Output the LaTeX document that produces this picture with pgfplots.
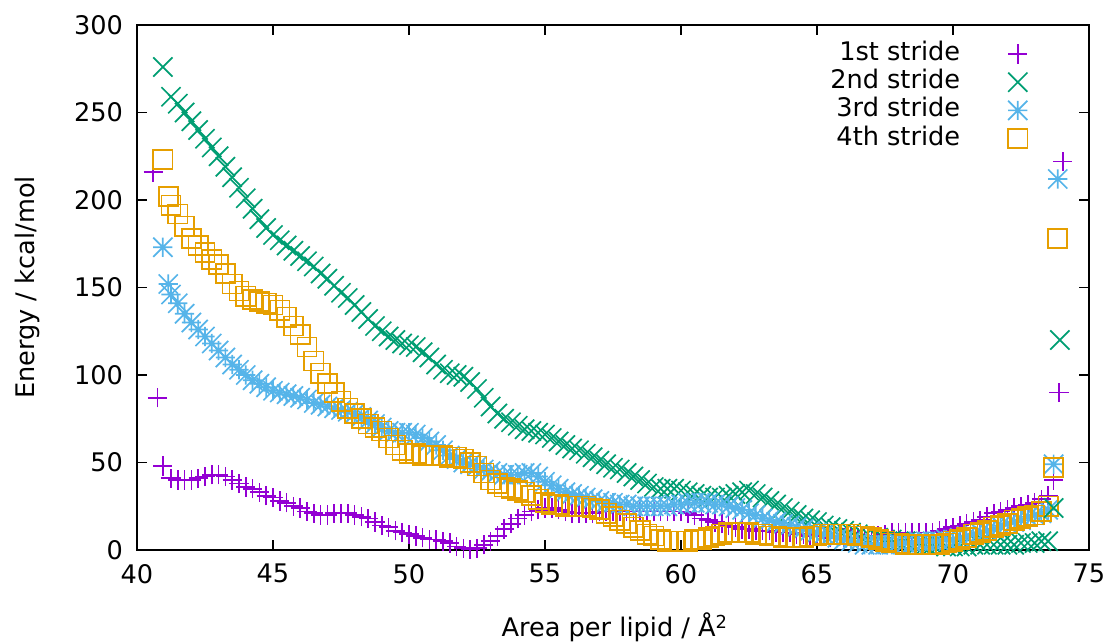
\documentclass[border=0pt]{standalone}
\usepackage{fontspec}
\setmainfont{DejaVu Sans}
\usepackage{pgfplots}
\usepackage{pgfplotstable}
\pgfplotsset{compat=1.18}

\definecolor{gpviolet}{RGB}{148,0,211}
\definecolor{gpgreen}{RGB}{0,158,115}
\definecolor{gpblue}{RGB}{86,180,233}
\definecolor{gporange}{RGB}{230,159,0}

\pgfdeclareplotmark{gpplus}{%
  \pgfpathmoveto{\pgfqpoint{-\pgfplotmarksize}{0pt}}\pgfpathlineto{\pgfqpoint{\pgfplotmarksize}{0pt}}%
  \pgfpathmoveto{\pgfqpoint{0pt}{-\pgfplotmarksize}}\pgfpathlineto{\pgfqpoint{0pt}{\pgfplotmarksize}}%
  \pgfusepathqstroke}
\pgfdeclareplotmark{gpcross}{%
  \pgfpathmoveto{\pgfqpoint{-\pgfplotmarksize}{-\pgfplotmarksize}}\pgfpathlineto{\pgfqpoint{\pgfplotmarksize}{\pgfplotmarksize}}%
  \pgfpathmoveto{\pgfqpoint{-\pgfplotmarksize}{\pgfplotmarksize}}\pgfpathlineto{\pgfqpoint{\pgfplotmarksize}{-\pgfplotmarksize}}%
  \pgfusepathqstroke}
\pgfdeclareplotmark{gpstar}{%
  \pgfpathmoveto{\pgfqpoint{-\pgfplotmarksize}{0pt}}\pgfpathlineto{\pgfqpoint{\pgfplotmarksize}{0pt}}%
  \pgfpathmoveto{\pgfqpoint{0pt}{-\pgfplotmarksize}}\pgfpathlineto{\pgfqpoint{0pt}{\pgfplotmarksize}}%
  \pgfpathmoveto{\pgfqpoint{-\pgfplotmarksize}{-\pgfplotmarksize}}\pgfpathlineto{\pgfqpoint{\pgfplotmarksize}{\pgfplotmarksize}}%
  \pgfpathmoveto{\pgfqpoint{-\pgfplotmarksize}{\pgfplotmarksize}}\pgfpathlineto{\pgfqpoint{\pgfplotmarksize}{-\pgfplotmarksize}}%
  \pgfusepathqstroke}
\pgfdeclareplotmark{gpsquare}{%
  \pgfpathrectangle{\pgfqpoint{-\pgfplotmarksize}{-\pgfplotmarksize}}{\pgfqpoint{2\pgfplotmarksize}{2\pgfplotmarksize}}%
  \pgfusepathqstroke}

% main series: x  P(1st) G(2nd) B(3rd) O(4th)
\pgfplotstableread{
x P G B O
41.25 41 259 146 197
41.50 40 255 141 192
41.75 40 250 135 185
42.00 40 245 130 178
42.25 41 240 126 174
42.50 42 235 122 170
42.75 43 230 118 166
43.00 43 225 114 163
43.25 42 219 110 158
43.50 40 213 106 152
43.75 38 207 103 148
44.00 36 201 100 145
44.25 35 195 97 143
44.50 33 189 95 142
44.75 31 184 93 141
45.00 30 180 91 140
45.25 28 177 90 137
45.50 27 174 89 133
45.75 25 171 88 128
46.00 24 168 87 123
46.25 22 165 86 116
46.50 21 162 84 108
46.75 20 158 83 101
47.00 20 155 82 95
47.25 21 151 81 90
47.50 21 147 80 85
47.75 21 144 79 81
48.00 20 140 78 78
48.25 19 136 76 75
48.50 18 132 74 72
48.75 16 128 72 70
49.00 14 125 70 68
49.25 13 122 68 64
49.50 11 120 67 60
49.75 10 118 67 57
50.00 9 117 67 55
50.25 8 116 66 55
50.50 7 113 64 54
50.75 6 110 62 54
51.00 6 106 60 54
51.25 5 103 57 54
51.50 4 101 54 53
51.75 2 100 52 53
52.00 1 99 50 52
52.25 0.5 96 49 50
52.50 1 92 48 48
52.75 3 87 46 44
53.00 5 82 45 40
53.25 8 78 44 38
53.50 12 75 43 36
53.75 15 73 43 35
54.00 18 71 43 34
54.25 20 69 44 33
54.50 22 68 44 31
54.75 23 67 42 29
55.00 24 66 39 27
55.25 24 64 37 26
55.50 23 62 35 26
55.75 22 60 33 25
56.00 21 58 32 25
56.25 21 57 31 25
56.50 21 55 30 25
56.75 21 53 29 24
57.00 22 51 28 23
57.25 22 49 27 21
57.50 22 47 27 19
57.75 22 46 26 17
58.00 22 44 26 15
58.25 22 42 25 13
58.50 22 40 25 11
58.75 22 38 25 9
59.00 22 36 25 8
59.25 22 35 25 6
59.50 22 35 25 5
59.75 22 35 26 5
60.00 22 34 26 5
60.25 21 33 27 5
60.50 20 32 27 6
60.75 18 31 27 6
61.00 17 30 27 7
61.25 16 30 26 8
61.50 15 30 26 9
61.75 14 31 25 10
62.00 13 32 24 10
62.25 12 33 23 10
62.50 12 34 21 10
62.75 11 32 20 9
63.00 11 30 18 9
63.25 11 28 17 8
63.50 10 26 16 8
63.75 10 24 15 7
64.00 10 22 14 7
64.25 9 20 13 7
64.50 9 18 12 7
64.75 8 17 11 8
65.00 8 16 10 8
65.25 8 14 9 9
65.50 7 13 8 9
65.75 7 12 7 9
66.00 7 11 6 9
66.25 7 10 5 9
66.50 7 9 4 8
66.75 7 8 3 8
67.00 7 7 3 7
67.25 8 7 3 6
67.50 9 6 3 5
67.75 10 6 3 4
68.00 10 5 4 4
68.25 10 5 4 3
68.50 10 4 4 3
68.75 10 4 5 3
69.00 10 3 5 3
69.25 10 3 5 3
69.50 11 3 5 3
69.75 12 2 6 4
70.00 13 2 6 5
70.25 14 2 7 6
70.50 15 2 8 7
70.75 16 3 9 9
71.00 17 3 10 10
71.25 19 3 11 11
71.50 21 3 12 13
71.75 22 3 14 14
72.00 23 3 15 15
72.25 24 3 16 17
72.50 25 4 17 18
72.75 26 4 19 19
73.00 27 4 20 20
73.25 29 5 21 22
73.50 31 5 23 25
}\datatable

\begin{document}
\begin{tikzpicture}[font=\fontsize{12.8}{15}\selectfont]
\begin{axis}[
  at={(0,0)}, anchor=south west,
  scale only axis,
  width=476pt, height=262.5pt,
  xmin=40, xmax=75, ymin=0, ymax=300,
  xtick={40,45,...,75}, ytick={0,50,...,300},
  minor tick num=0,
  tick pos=both, ticklabel pos=left,
  tick align=inside,
  major tick length=5pt,
  axis line style={line width=0.9pt},
  every tick/.style={black, line width=0.7pt},
  xticklabel shift=3.5pt, yticklabel shift=3.5pt,
  /pgf/number format/assume math mode=true,
  xlabel={Area per lipid / Å\textsuperscript{2}},
  ylabel={Energy / kcal/mol},
  xlabel style={at={(axis description cs:0.502,-0.1657)}, anchor=base},
  ylabel style={at={(axis description cs:-0.1155,0.5)}, anchor=center},
  legend plot pos=right,
  legend cell align=right,
  legend style={draw=none, fill=none, at={(axis description cs:0.942,0.98)}, anchor=north east,
    column sep=23pt,
    nodes={inner ysep=0.8pt, inner xsep=1pt, text height=9.5pt, text depth=3pt}},
  mark size=4.8pt,
  every axis plot/.append style={line width=0.85pt},
]
\addplot[only marks, mark=gpplus, color=gpviolet] table[x=x, y=P] {\datatable};
\addlegendentry{1st stride}
\addplot[only marks, mark=gpcross, color=gpgreen] table[x=x, y=G] {\datatable};
\addlegendentry{2nd stride}
\addplot[only marks, mark=gpstar, color=gpblue] table[x=x, y=B] {\datatable};
\addlegendentry{3rd stride}
\addplot[only marks, mark=gpsquare, color=gporange] table[x=x, y=O] {\datatable};
\addlegendentry{4th stride}
% isolated end points of each stride
\addplot[only marks, mark=gpplus, color=gpviolet, forget plot] coordinates {(40.60,216) (40.75,87) (40.95,48) (73.70,40) (73.90,90) (74.04,222)};
\addplot[only marks, mark=gpcross, color=gpgreen, forget plot] coordinates {(40.95,276) (73.70,24) (73.93,120)};
\addplot[only marks, mark=gpstar, color=gpblue, forget plot] coordinates {(40.95,173) (41.15,152) (73.70,49) (73.85,212)};
\addplot[only marks, mark=gpsquare, color=gporange, forget plot] coordinates {(40.95,223) (41.15,202) (73.70,47) (73.85,178)};
\end{axis}
\pgfresetboundingbox
\path[use as bounding box] (-68.5pt,-46.5pt) rectangle (486.5pt,275pt);
\end{tikzpicture}
\end{document}
